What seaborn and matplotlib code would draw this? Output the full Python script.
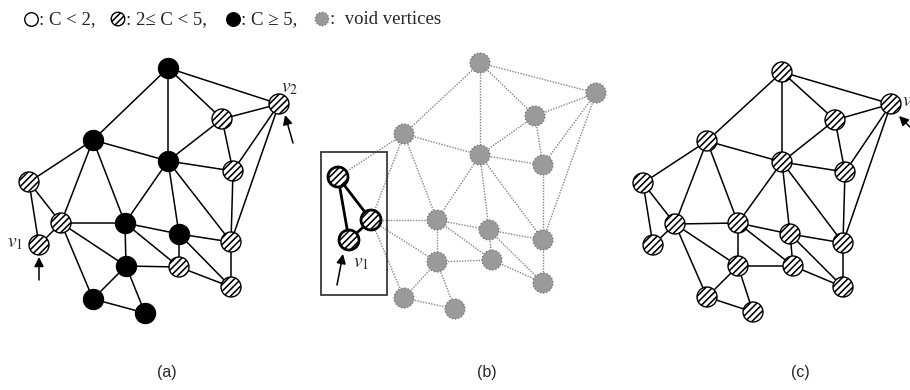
import matplotlib
matplotlib.use("Agg")
import matplotlib.pyplot as plt
import numpy as np
import pandas as pd
import seaborn as sns

sns.set_theme(style="white")
plt.rcParams["hatch.linewidth"] = 1.15
plt.rcParams["mathtext.fontset"] = "stix"

# ---- graph: node positions (pixel coordinates) for the three views ----
xa = [168, 279, 222, 93, 168, 233, 29, 61, 125, 179, 231, 39, 126, 179, 231, 93, 145]
ya = [68, 104, 119, 140, 161, 171, 182, 223, 223, 234, 242, 245, 266, 267, 287, 299, 313]

xb = [480, 596, 535, 404, 480, 543, 338, 371, 437, 489, 543, 349, 437, 492, 543, 404, 455]
yb = [63, 93, 116, 134, 155, 165, 177, 220, 220, 230, 240, 240, 262, 260, 283, 298, 309]

xc = [782, 891, 835, 707, 782, 845, 643, 675, 738, 790, 843, 653, 738, 793, 843, 707, 753]
yc = [72, 104, 120, 141, 162, 172, 183, 224, 223, 234, 243, 245, 266, 266, 287, 297, 312]

# node classes: "black" C >= 5, "hatch" 2 <= C < 5, "void" void vertex
class_a = ["black", "hatch", "hatch", "black", "black", "hatch", "hatch", "hatch", "black",
           "black", "hatch", "hatch", "black", "hatch", "hatch", "black", "black"]
class_b = ["void"] * 17
for i in (6, 7, 11):
    class_b[i] = "hatch"
class_c = ["hatch"] * 17

edges = [(1, 4), (1, 5), (1, 3), (1, 2), (2, 3), (2, 6), (2, 11), (3, 5), (3, 6),
         (4, 7), (4, 8), (4, 9), (4, 5), (5, 6), (5, 9), (5, 10), (5, 11), (6, 11),
         (7, 8), (7, 12), (8, 12), (8, 9), (8, 13), (8, 16), (9, 13), (9, 10), (9, 14),
         (10, 11), (10, 14), (10, 15), (11, 15), (13, 14), (13, 16), (13, 17), (14, 15),
         (16, 17)]
cluster_edges = {(7, 8), (7, 12), (8, 12)}

legend_labels = [": C < 2,", ": 2\u2264 C < 5,", ": C \u2265 5,", ":  void vertices"]
legend_x = [31, 118, 233, 322]
legend_kind = ["open", "hatch", "black", "void"]
panel_labels = ["(a)", "(b)", "(c)"]
panel_label_x = [167, 487, 800]

fig = plt.figure(figsize=(9.1, 3.9), dpi=100)
ax = fig.add_axes([0, 0, 1, 1])
ax.set_xlim(0, 910)
ax.set_ylim(390, 0)
ax.axis("off")

NODE_S = 207
HATCH = "/////"

style = {
    "black": dict(facecolor="black", edgecolor="black", linewidth=1.0),
    "hatch": dict(facecolor="white", edgecolor="black", linewidth=1.0, hatch=HATCH),
    "void": dict(facecolor="#9a9a9a", edgecolor="#6e6e6e", linewidth=0.9, linestyle=":"),
    "open": dict(facecolor="white", edgecolor="black", linewidth=1.0),
}


def draw_edges(xs, ys, kind):
    for a, b in edges:
        i, j = a - 1, b - 1
        if kind == "dotted" and (a, b) not in cluster_edges:
            ax.plot([xs[i], xs[j]], [ys[i], ys[j]], color="#858585", lw=1.0,
                    ls=(0, (1, 1)), zorder=1)
        elif kind == "dotted":
            ax.plot([xs[i], xs[j]], [ys[i], ys[j]], color="black", lw=2.0, zorder=2)
        else:
            ax.plot([xs[i], xs[j]], [ys[i], ys[j]], color="black", lw=1.1, zorder=1)


def draw_nodes(xs, ys, classes, thick=()):
    df = pd.DataFrame({"x": xs, "y": ys, "cls": classes})
    for cls, sub in df.groupby("cls"):
        kws = dict(style[cls])
        sns.scatterplot(data=sub, x="x", y="y", s=NODE_S, ax=ax, zorder=3,
                        legend=False, **kws)
    if thick:
        sub = df.iloc[list(thick)]
        sns.scatterplot(data=sub, x="x", y="y", s=NODE_S, ax=ax, zorder=4,
                        legend=False, facecolor="white", edgecolor="black",
                        linewidth=2.0, hatch=HATCH)


# (a)
draw_edges(xa, ya, "solid")
draw_nodes(xa, ya, class_a)
# (b)
draw_edges(xb, yb, "dotted")
draw_nodes(xb, yb, class_b, thick=(6, 7, 11))
ax.add_patch(plt.Rectangle((321, 152), 66, 143, fill=False, edgecolor="#3a3a3a",
                           lw=1.3, zorder=5))
# (c)
draw_edges(xc, yc, "solid")
draw_nodes(xc, yc, class_c)

# arrows and vertex labels
arrow_kw = dict(arrowstyle="-|>", color="black", lw=1.1, mutation_scale=14,
                shrinkA=0, shrinkB=0)
ax.annotate("", xy=(39, 257), xytext=(39, 280), arrowprops=arrow_kw, zorder=6)
ax.annotate("", xy=(285, 115), xytext=(293, 143), arrowprops=arrow_kw, zorder=6)
ax.annotate("", xy=(343, 254), xytext=(337, 285), arrowprops=arrow_kw, zorder=6)
ax.annotate("", xy=(899, 116), xytext=(915, 132), arrowprops=arrow_kw, zorder=6)

vfs = 14
ax.text(15, 242, r"$v_1$", fontsize=vfs, ha="center", va="center", zorder=6)
ax.text(290, 87, r"$v_2$", fontsize=vfs, ha="center", va="center", zorder=6)
ax.text(361, 262, r"$v_1$", fontsize=vfs, ha="center", va="center", zorder=6)
ax.text(902, 101, r"$v_2$", fontsize=vfs, ha="left", va="center", zorder=6)

# legend row
leg_df = pd.DataFrame({"x": legend_x, "y": [19] * 4, "kind": legend_kind})
for kind, sub in leg_df.groupby("kind"):
    sns.scatterplot(data=sub, x="x", y="y", s=95, ax=ax, zorder=3, legend=False,
                    **style[kind])
for x, lab in zip(legend_x, legend_labels):
    ax.text(x + 8, 20, lab, fontsize=13.5, family="Liberation Serif",
            ha="left", va="center")

# panel captions
for x, lab in zip(panel_label_x, panel_labels):
    ax.text(x, 372, lab, fontsize=11.5, family="Liberation Sans", ha="center",
            va="center")

fig.savefig("out.png", dpi=100)
